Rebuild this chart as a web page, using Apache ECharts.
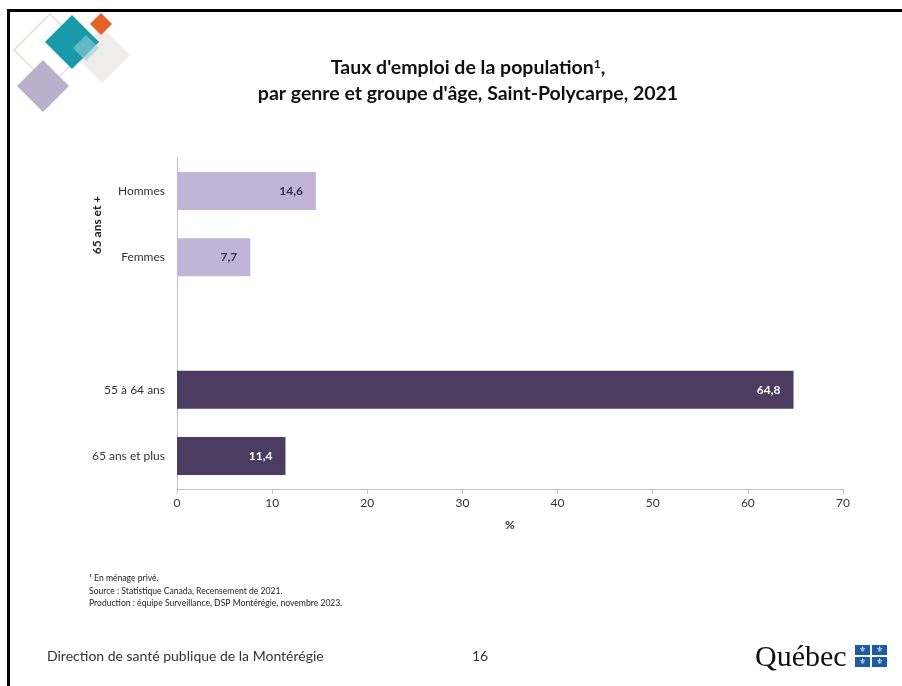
<!DOCTYPE html>
<html><head><meta charset="utf-8">
<script src="https://cdn.jsdelivr.net/npm/echarts@6/dist/echarts.min.js"></script>
<style>html,body{margin:0;padding:0;background:#fff}#c{width:902px;height:686px}</style>
</head><body><div id="c"></div>
<script>
const categories = ['Hommes', 'Femmes', '', '55 à 64 ans', '65 ans et plus'];
const values = [14.6, 7.7, null, 64.8, 11.4];
const groupName = '65 ans et +';
const xTicks = [0, 10, 20, 30, 40, 50, 60, 70];
const titleLine1 = "Taux d'emploi de la population";
const titleLine2 = "par genre et groupe d'âge, Saint-Polycarpe, 2021";
const notes = ['¹ En ménage privé.', 'Source : Statistique Canada, Recensement de 2021.', 'Production : équipe Surveillance, DSP Montérégie, novembre 2023.'];
const footerLeft = 'Direction de santé publique de la Montérégie';
const pageNum = '16';

const barColors = ['#c2b4d6', '#c2b4d6', '#c2b4d6', '#4c3c61', '#4c3c61'];
const labelColors = ['#3b2d4f', '#3b2d4f', '#3b2d4f', '#ffffff', '#ffffff'];
const F = 'Lato, "Open Sans", sans-serif';

const chart = echarts.init(document.getElementById('c'));
function diamond(cx, cy, h, fill, stroke, op) {
  return { type: 'polygon', shape: { points: [[cx, cy - h], [cx + h, cy], [cx, cy + h], [cx - h, cy]] },
    style: { fill: fill, stroke: stroke || null, lineWidth: stroke ? 1.5 : 0, opacity: op == null ? 1 : op } };
}
const flagBlue = '#1c5ca3';
const flag = [];
[[855, 645], [872, 645], [855, 657], [872, 657]].forEach(p => {
  flag.push({ type: 'rect', shape: { x: p[0], y: p[1], width: 15, height: 10 }, style: { fill: flagBlue } });
  flag.push({ type: 'text', x: p[0] + 7.5, y: p[1] + 5, style: { text: '⚜', fill: '#fff', font: '8px "DejaVu Sans"', align: 'center', verticalAlign: 'middle' } });
});

chart.setOption({
  animation: false,
  backgroundColor: '#fff',
  grid: { left: 177, right: 59, top: 158, bottom: 197, containLabel: false },
  xAxis: {
    type: 'value', min: 0, max: 70, interval: 10,
    name: '%', nameLocation: 'middle', nameGap: 30,
    nameTextStyle: { fontFamily: F, fontSize: 12, fontWeight: 'bold', color: '#333' },
    axisLine: { show: true, lineStyle: { color: '#bfbfbf', width: 1 } },
    axisTick: { show: true, length: 5, lineStyle: { color: '#bfbfbf' } },
    splitLine: { show: false },
    axisLabel: { fontFamily: F, fontSize: 12, color: '#333', margin: 8,
      formatter: v => xTicks.indexOf(v) >= 0 ? String(v) : '' }
  },
  yAxis: {
    type: 'category', data: categories, inverse: true,
    axisLine: { show: true, lineStyle: { color: '#bfbfbf', width: 1 } },
    axisTick: { show: false },
    axisLabel: { fontFamily: F, fontSize: 12, color: '#333', margin: 12 }
  },
  series: [{
    type: 'bar', barWidth: 38,
    data: values.map((v, i) => ({ value: v, itemStyle: { color: barColors[i] },
      label: { color: labelColors[i] } })),
    label: { show: true, position: 'insideRight', distance: 13, fontFamily: F, fontSize: 12, fontWeight: 'bold',
      formatter: p => p.value == null ? '' : String(p.value).replace('.', ',') }
  }],
  graphic: [
    { type: 'rect', shape: { x: 8, y: 9, width: 902, height: 3 }, style: { fill: '#000' } },
    { type: 'rect', shape: { x: 7, y: 9, width: 3, height: 690 }, style: { fill: '#000' } },
    diamond(50, 50, 36, null, '#dfe3d8'),
    diamond(102, 55, 28, '#ecebea', null, 0.9),
    diamond(43, 86, 26, '#b9b1cc'),
    diamond(72, 42, 27, '#1a99aa'),
    diamond(101, 24, 11, '#e4622a'),
    diamond(86, 48, 13, '#8fcfd6', null, 0.6),
    { type: 'text', x: 468, y: 58, style: { text: titleLine1 + '{s|1},', font: 'bold 19.5px ' + F, fill: '#111', align: 'center',
      rich: { s: { font: 'bold 12px ' + F, fill: '#111', verticalAlign: 'top', padding: [0, 0, 8, 0] } } } },
    { type: 'text', x: 468, y: 84, style: { text: titleLine2, font: 'bold 19.5px ' + F, fill: '#111', align: 'center' } },
    { type: 'text', x: 97, y: 225, rotation: Math.PI / 2, style: { text: groupName, font: 'bold 12px ' + F, fill: '#222', align: 'center', verticalAlign: 'middle' } },
    { type: 'text', x: 89, y: 572, style: { text: notes.join('\n'), font: '8.6px ' + F, fill: '#222', lineHeight: 12.5 } },
    { type: 'text', x: 47, y: 656, style: { text: footerLeft, font: '14px ' + F, fill: '#333', verticalAlign: 'middle' } },
    { type: 'text', x: 480, y: 656, style: { text: pageNum, font: '14px ' + F, fill: '#333', align: 'center', verticalAlign: 'middle' } },
    { type: 'text', x: 755, y: 658, style: { text: 'Québec', font: '30px "Liberation Serif", serif', fill: '#111', verticalAlign: 'middle' } }
  ].concat(flag)
});
</script></body></html>
